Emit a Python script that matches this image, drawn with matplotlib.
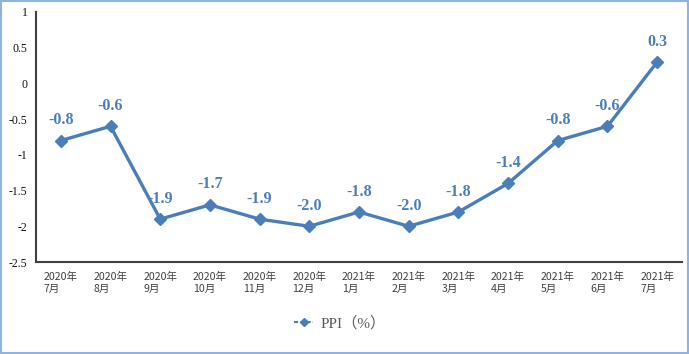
import matplotlib.pyplot as plt
from matplotlib.patches import Rectangle

months = ['2020年\n7月', '2020年\n8月', '2020年\n9月', '2020年\n10月', '2020年\n11月',
          '2020年\n12月', '2021年\n1月', '2021年\n2月', '2021年\n3月', '2021年\n4月',
          '2021年\n5月', '2021年\n6月', '2021年\n7月']
ppi = [-0.8, -0.6, -1.9, -1.7, -1.9, -2.0, -1.8, -2.0, -1.8, -1.4, -0.8, -0.6, 0.3]
yticks = [1, 0.5, 0, -0.5, -1, -1.5, -2, -2.5]
ytick_labels = ['1', '0.5', '0', '-0.5', '-1', '-1.5', '-2', '-2.5']

blue = '#4a7ebb'

fig = plt.figure(figsize=(6.89, 3.54), dpi=100)
ax = fig.add_axes([36 / 689, 92 / 354, 646 / 689, 250 / 354])

x = list(range(len(months)))
line, = ax.plot(x, ppi, color=blue, linewidth=2.4, marker='D', markersize=6,
                markeredgecolor=blue, label='PPI（%）')

for xi, v in zip(x, ppi):
    ax.annotate(f'{v:.1f}', (xi, v), xytext=(0, 9), textcoords='offset points',
                ha='center', va='bottom', color=blue, fontsize=11.5,
                fontweight='bold', family='Liberation Serif')

ax.set_xlim(-0.5, len(months) - 0.5)
ax.set_ylim(-2.5, 1)
ax.set_yticks(yticks)
ax.set_yticklabels(ytick_labels, family='Liberation Serif', fontsize=8.5, color='#111111')
ax.set_xticks(x)
ax.set_xticklabels(months, family=['Noto Sans CJK SC', 'DejaVu Sans'], fontsize=7.6,
                   color='#404040', multialignment='left', linespacing=1.25)
ax.tick_params(axis='both', length=0)
ax.tick_params(axis='x', pad=7)
ax.tick_params(axis='y', pad=6)

for s in ['top', 'right']:
    ax.spines[s].set_visible(False)
ax.spines['left'].set_color('#404040')
ax.spines['bottom'].set_color('#404040')
ax.spines['left'].set_linewidth(1.5)
ax.spines['bottom'].set_linewidth(1.5)

leg = fig.legend(handles=[line], loc='center', bbox_to_anchor=(340 / 689, 1 - 323 / 354),
                 frameon=False, handlelength=1.2, handletextpad=0.5,
                 prop={'family': ['Liberation Serif', 'Noto Sans CJK SC'], 'size': 11})
for t in leg.get_texts():
    t.set_color('#595959')
for h in leg.legend_handles:
    h.set_linewidth(1.5)
    h.set_markersize(4.5)
    h.set_linestyle((0, (2, 1)))

fig.patches.append(Rectangle((0.002, 0.003), 0.996, 0.994, transform=fig.transFigure,
                             fill=False, edgecolor='#8eb4e3', linewidth=1.5))

fig.savefig('out.png', dpi=100)
